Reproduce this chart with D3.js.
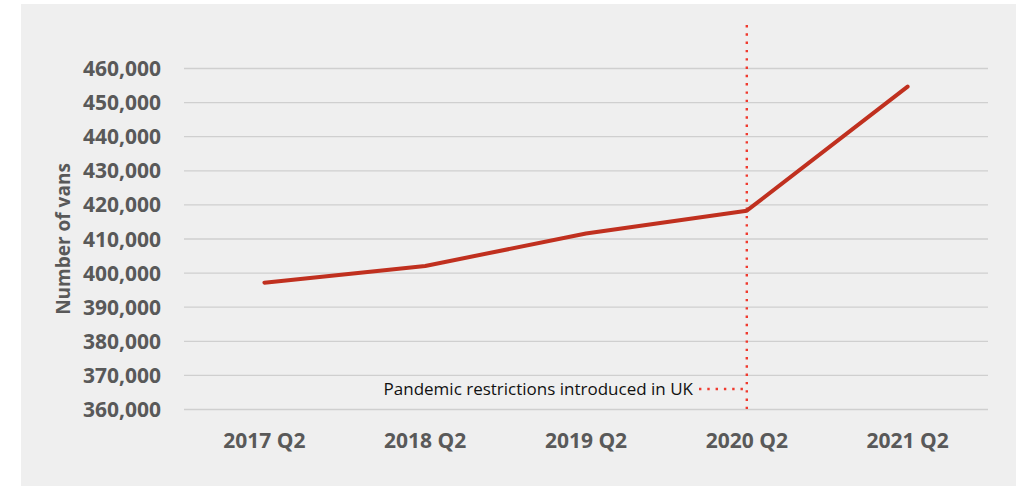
<!DOCTYPE html>
<html>
<head>
<meta charset="utf-8">
<script src="https://cdn.jsdelivr.net/npm/d3@7"></script>
<style>
  body { margin: 0; background: #fff; }
  text { font-family: "Open Sans", sans-serif; }
</style>
</head>
<body>
<svg id="chart" width="1016" height="486"></svg>
<script>
// data
var quarters = ['2017 Q2', '2018 Q2', '2019 Q2', '2020 Q2', '2021 Q2']
var vans = [397200, 402100, 411600, 418300, 454700]
var yTicks = [360000, 370000, 380000, 390000, 400000, 410000, 420000, 430000, 440000, 450000, 460000]
var marker = {at: '2020 Q2', label: 'Pandemic restrictions introduced in UK'}

var svg = d3.select('#chart')

// grey panel
svg.append('rect')
    .attr('x', 21).attr('y', 4)
    .attr('width', 995).attr('height', 482)
    .attr('fill', '#efefef')

var plotL = 184, plotR = 988, plotT = 68.5, plotB = 409.5

var x = d3.scaleBand().domain(quarters).range([plotL, plotR])
var y = d3.scaleLinear().domain([360000, 460000]).range([plotB, plotT])

var fmt = d3.format(',')

// grid
svg.append('g').selectAll('line').data(yTicks).enter().append('line')
    .attr('x1', plotL).attr('x2', plotR)
    .attr('y1', function(d){return y(d)}).attr('y2', function(d){return y(d)})
    .attr('stroke', '#cfcfcf').attr('stroke-width', 1.3)

// y labels
svg.append('g').selectAll('text').data(yTicks).enter().append('text')
    .attr('x', 161).attr('y', function(d){return y(d) + 7.5})
    .attr('text-anchor', 'end')
    .attr('font-size', 21).attr('font-weight', 700).attr('fill', '#595959')
    .text(function(d){return fmt(d)})

// x labels
svg.append('g').selectAll('text').data(quarters).enter().append('text')
    .attr('x', function(d){return x(d) + x.bandwidth()/2})
    .attr('y', 448)
    .attr('text-anchor', 'middle')
    .attr('font-size', 21).attr('font-weight', 700).attr('fill', '#595959')
    .text(function(d){return d})

// axis title
svg.append('text')
    .attr('transform', 'translate(70,239) rotate(-90)')
    .attr('text-anchor', 'middle')
    .attr('font-size', 19).attr('font-weight', 700).attr('fill', '#595959')
    .text('Number of vans')

// marker lines
var mx = x(marker.at) + x.bandwidth()/2
svg.append('line')
    .attr('x1', mx).attr('x2', mx).attr('y1', 25).attr('y2', 409)
    .attr('stroke', '#f03a2e').attr('stroke-width', 2.4).attr('stroke-dasharray', '2.4,5.9')
svg.append('line')
    .attr('x1', 699).attr('x2', mx).attr('y1', 389).attr('y2', 389)
    .attr('stroke', '#f03a2e').attr('stroke-width', 2.4).attr('stroke-dasharray', '2.4,5.9')
svg.append('text')
    .attr('x', 693).attr('y', 395)
    .attr('text-anchor', 'end')
    .attr('font-size', 17).attr('fill', '#111')
    .text(marker.label)

// series
var line = d3.line()
    .x(function(d, i){return x(quarters[i]) + x.bandwidth()/2})
    .y(function(d){return y(d)})

svg.append('path')
    .datum(vans)
    .attr('d', line)
    .attr('fill', 'none')
    .attr('stroke', '#c0301f')
    .attr('stroke-width', 4)
    .attr('stroke-linecap', 'round')
    .attr('stroke-linejoin', 'round')
</script>
</body>
</html>
